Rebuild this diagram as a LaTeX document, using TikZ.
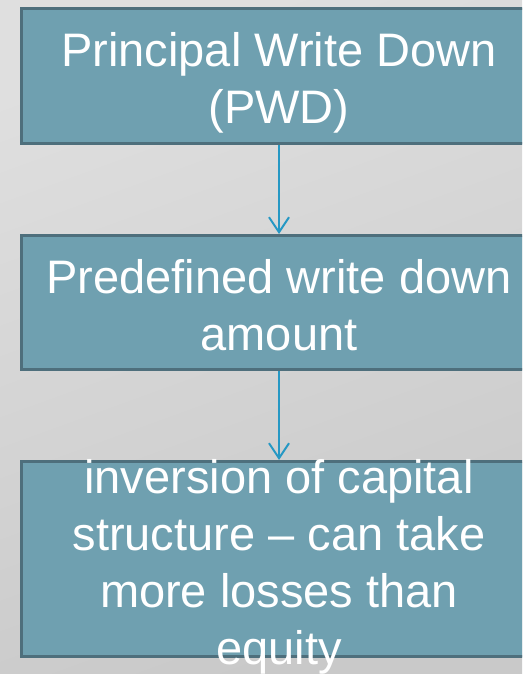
\documentclass[tikz,border=0pt]{standalone}
\usepackage{fontspec}
\setmainfont{Liberation Sans}
\usetikzlibrary{arrows.meta, positioning}
\definecolor{boxfill}{RGB}{111,160,176}
\definecolor{boxline}{RGB}{78,111,124}
\definecolor{arrowblue}{RGB}{38,152,196}
\definecolor{bgtop}{RGB}{223,223,223}
\definecolor{bgbottom}{RGB}{201,201,201}
\tikzset{
    box/.style = {rectangle, draw=boxline, fill=boxfill, line width=3pt, minimum width=515pt, inner sep=0pt},
    boxtext/.style = {text=white, align=center, inner sep=0pt, anchor=north, font=\fontsize{47}{57}\selectfont},
    arrow/.style = {draw=arrowblue, line width=2pt, -{Straight Barb[length=15pt, width=20pt]}}
}

\begin{document}
\begin{tikzpicture}[x=1pt, y=-1pt]
\clip (0,0) rectangle (522,674);
\shade[top color=bgtop, bottom color=bgbottom, shading angle=20] (0,0) rectangle (522,674);

\node (pwd) [box, minimum height=135pt] at (279,76) {};
\node (amount) [box, minimum height=134pt] at (279,302.5) {};
\node (inversion) [box, minimum height=195pt] at (279,559) {};

\node (pwdtext) [boxtext] at (279,32) {Principal Write Down\\(PWD)};
\node (amounttext) [boxtext] at (279,259) {Predefined write down\\amount};
\node (inversiontext) [boxtext] at (279,459) {inversion of capital\\structure -- can take\\more losses than\\equity};

\draw [arrow] (pwd) -- (amount);
\draw [arrow] (amount) -- (inversion);
\end{tikzpicture}
\end{document}
